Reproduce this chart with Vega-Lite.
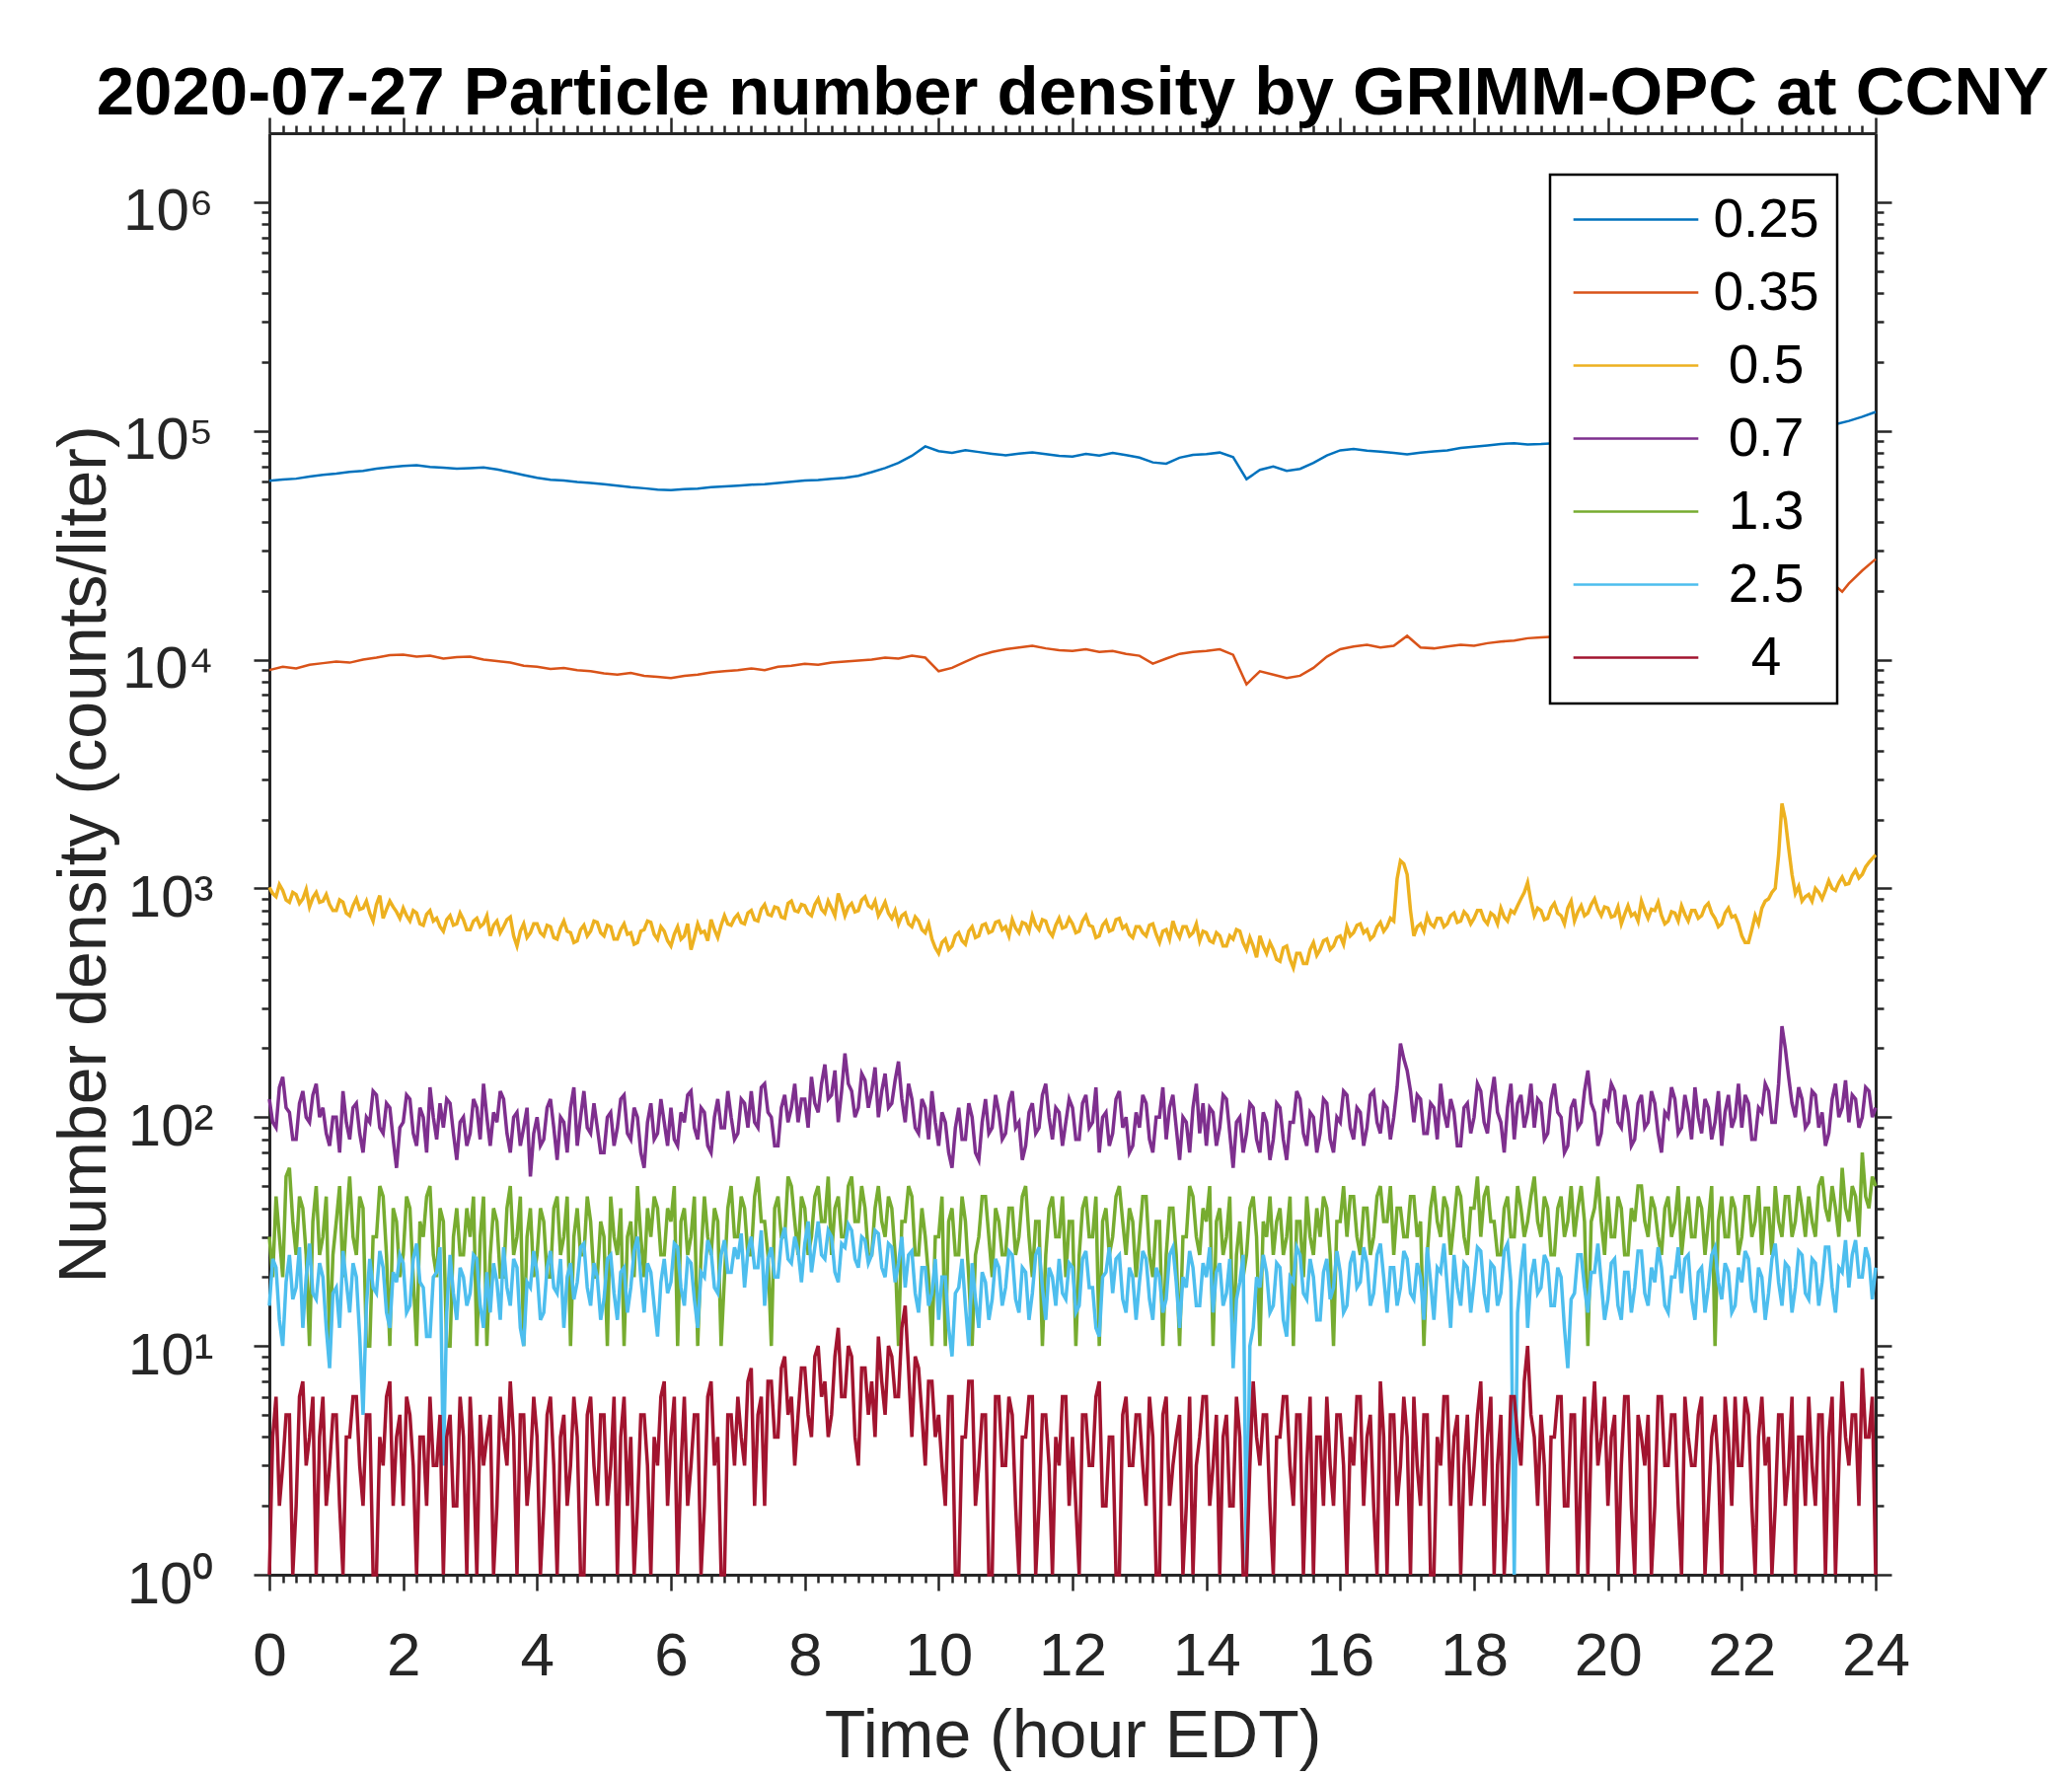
{
  "$schema": "https://vega.github.io/schema/vega-lite/v6.json",
  "width": 1628,
  "height": 1461,
  "autosize": {"type": "none"},
  "padding": {"left": 273, "top": 135, "right": 199, "bottom": 204},
  "background": "white",
  "title": {
    "text": "2020-07-27 Particle number density by GRIMM-OPC at CCNY",
    "font": "Liberation Sans",
    "fontSize": 69,
    "fontWeight": "bold",
    "color": "black",
    "anchor": "middle",
    "frame": "group",
    "baseline": "alphabetic",
    "offset": -67
  },
  "datasets": {
    "s025": [
      {"t":0,"v":60500},{"t":0.2,"v":61200},{"t":0.4,"v":61800},{"t":0.6,"v":63100},{"t":0.8,"v":64200},{"t":1,"v":65000},{"t":1.2,"v":66100},{"t":1.4,"v":66800},{"t":1.6,"v":68400},{"t":1.8,"v":69300},
      {"t":2,"v":70200},{"t":2.2,"v":70800},{"t":2.4,"v":69600},{"t":2.6,"v":69100},{"t":2.8,"v":68300},{"t":3,"v":68700},{"t":3.2,"v":69200},{"t":3.4,"v":67800},{"t":3.6,"v":66000},{"t":3.8,"v":64100},
      {"t":4,"v":62300},{"t":4.2,"v":61100},{"t":4.4,"v":60600},{"t":4.6,"v":59800},{"t":4.8,"v":59200},{"t":5,"v":58400},{"t":5.2,"v":57600},{"t":5.4,"v":56700},{"t":5.6,"v":56100},{"t":5.8,"v":55400},
      {"t":6,"v":55000},{"t":6.2,"v":55600},{"t":6.4,"v":55900},{"t":6.6,"v":56700},{"t":6.8,"v":57100},{"t":7,"v":57600},{"t":7.2,"v":58200},{"t":7.4,"v":58400},{"t":7.6,"v":59200},{"t":7.8,"v":59900},
      {"t":8,"v":60600},{"t":8.2,"v":61000},{"t":8.4,"v":61700},{"t":8.6,"v":62300},{"t":8.8,"v":63600},{"t":9,"v":66000},{"t":9.2,"v":68800},{"t":9.4,"v":72500},{"t":9.6,"v":77800},{"t":9.8,"v":85500},
      {"t":10,"v":81500},{"t":10.2,"v":80200},{"t":10.4,"v":82300},{"t":10.6,"v":80800},{"t":10.8,"v":79400},{"t":11,"v":78200},{"t":11.2,"v":79600},{"t":11.4,"v":80500},{"t":11.6,"v":79100},{"t":11.8,"v":77800},
      {"t":12,"v":77200},{"t":12.2,"v":79300},{"t":12.4,"v":77900},{"t":12.6,"v":80100},{"t":12.8,"v":78300},{"t":13,"v":76400},{"t":13.2,"v":72800},{"t":13.4,"v":71900},{"t":13.6,"v":76300},{"t":13.8,"v":78600},
      {"t":14,"v":79200},{"t":14.2,"v":80400},{"t":14.4,"v":76800},{"t":14.6,"v":61500},{"t":14.8,"v":67500},{"t":15,"v":69800},{"t":15.2,"v":66900},{"t":15.4,"v":68200},{"t":15.6,"v":72400},{"t":15.8,"v":78100},
      {"t":16,"v":82200},{"t":16.2,"v":83400},{"t":16.4,"v":81900},{"t":16.6,"v":81200},{"t":16.8,"v":80100},{"t":17,"v":78900},{"t":17.2,"v":80300},{"t":17.4,"v":81400},{"t":17.6,"v":82100},{"t":17.8,"v":84200},
      {"t":18,"v":85300},{"t":18.2,"v":86400},{"t":18.4,"v":87600},{"t":18.6,"v":88300},{"t":18.8,"v":87200},{"t":19,"v":87500},{"t":19.2,"v":88200},{"t":19.4,"v":88800},{"t":19.6,"v":89300},{"t":19.8,"v":89700},
      {"t":20,"v":90200},{"t":20.2,"v":90600},{"t":20.4,"v":91000},{"t":20.6,"v":91300},{"t":20.8,"v":91700},{"t":21,"v":92100},{"t":21.2,"v":92400},{"t":21.4,"v":92800},{"t":21.6,"v":93200},{"t":21.8,"v":93500},
      {"t":22,"v":94000},{"t":22.2,"v":94600},{"t":22.4,"v":95300},{"t":22.6,"v":96200},{"t":22.8,"v":97400},{"t":23,"v":99200},{"t":23.2,"v":102500},{"t":23.4,"v":106800},{"t":23.6,"v":110500},{"t":23.8,"v":115200},
      {"t":24,"v":121000}
    ],
    "s035": [
      {"t":0,"v":9000},{"t":0.2,"v":9300},{"t":0.4,"v":9150},{"t":0.6,"v":9500},{"t":0.8,"v":9650},{"t":1,"v":9800},{"t":1.2,"v":9700},{"t":1.4,"v":10000},{"t":1.6,"v":10200},{"t":1.8,"v":10450},
      {"t":2,"v":10500},{"t":2.2,"v":10300},{"t":2.4,"v":10400},{"t":2.6,"v":10100},{"t":2.8,"v":10250},{"t":3,"v":10300},{"t":3.2,"v":10000},{"t":3.4,"v":9850},{"t":3.6,"v":9700},{"t":3.8,"v":9400},
      {"t":4,"v":9300},{"t":4.2,"v":9100},{"t":4.4,"v":9200},{"t":4.6,"v":9000},{"t":4.8,"v":8900},{"t":5,"v":8700},{"t":5.2,"v":8600},{"t":5.4,"v":8750},{"t":5.6,"v":8500},{"t":5.8,"v":8400},
      {"t":6,"v":8300},{"t":6.2,"v":8500},{"t":6.4,"v":8600},{"t":6.6,"v":8800},{"t":6.8,"v":8900},{"t":7,"v":9000},{"t":7.2,"v":9150},{"t":7.4,"v":9000},{"t":7.6,"v":9300},{"t":7.8,"v":9400},
      {"t":8,"v":9600},{"t":8.2,"v":9500},{"t":8.4,"v":9700},{"t":8.6,"v":9800},{"t":8.8,"v":9900},{"t":9,"v":10000},{"t":9.2,"v":10200},{"t":9.4,"v":10100},{"t":9.6,"v":10400},{"t":9.8,"v":10200},
      {"t":10,"v":8900},{"t":10.2,"v":9200},{"t":10.4,"v":9800},{"t":10.6,"v":10400},{"t":10.8,"v":10800},{"t":11,"v":11100},{"t":11.2,"v":11300},{"t":11.4,"v":11500},{"t":11.6,"v":11200},{"t":11.8,"v":11000},
      {"t":12,"v":10900},{"t":12.2,"v":11100},{"t":12.4,"v":10800},{"t":12.6,"v":10900},{"t":12.8,"v":10600},{"t":13,"v":10400},{"t":13.2,"v":9600},{"t":13.4,"v":10100},{"t":13.6,"v":10600},{"t":13.8,"v":10800},
      {"t":14,"v":10900},{"t":14.2,"v":11100},{"t":14.4,"v":10500},{"t":14.6,"v":7800},{"t":14.8,"v":8900},{"t":15,"v":8600},{"t":15.2,"v":8300},{"t":15.4,"v":8500},{"t":15.6,"v":9200},{"t":15.8,"v":10300},
      {"t":16,"v":11100},{"t":16.2,"v":11400},{"t":16.4,"v":11600},{"t":16.6,"v":11300},{"t":16.8,"v":11500},{"t":17,"v":12700},{"t":17.2,"v":11300},{"t":17.4,"v":11200},{"t":17.6,"v":11400},{"t":17.8,"v":11600},
      {"t":18,"v":11500},{"t":18.2,"v":11800},{"t":18.4,"v":12000},{"t":18.6,"v":12100},{"t":18.8,"v":12400},{"t":19,"v":12500},{"t":19.2,"v":12600},{"t":19.4,"v":12800},{"t":19.6,"v":12900},{"t":19.8,"v":13000},
      {"t":20,"v":13100},{"t":20.2,"v":13200},{"t":20.4,"v":13300},{"t":20.6,"v":13400},{"t":20.8,"v":13500},{"t":21,"v":13600},{"t":21.2,"v":13700},{"t":21.4,"v":13900},{"t":21.6,"v":14100},{"t":21.8,"v":14300},
      {"t":22,"v":14600},{"t":22.2,"v":15000},{"t":22.4,"v":15600},{"t":22.6,"v":16400},{"t":22.8,"v":17400},{"t":23,"v":18400},{"t":23.2,"v":19600},{"t":23.4,"v":21000},{"t":23.5,"v":19800},{"t":23.6,"v":21500},
      {"t":23.8,"v":24500},{"t":24,"v":27500}
    ],
    "s05": [
      {"t":0,"v":1010},{"t":0.05,"v":950},{"t":0.1,"v":920},{"t":0.15,"v":1040},{"t":0.2,"v":980},{"t":0.25,"v":890},{"t":0.3,"v":870},{"t":0.35,"v":960},{"t":0.4,"v":940},{"t":0.45,"v":860},{"t":0.5,"v":900},{"t":0.55,"v":990},{"t":0.6,"v":830},{"t":0.65,"v":910},{"t":0.7,"v":960},{"t":0.75,"v":870},{"t":0.8,"v":880},{"t":0.85,"v":940},{"t":0.9,"v":850},{"t":0.95,"v":800},
      {"t":1,"v":800},{"t":1.05,"v":890},{"t":1.1,"v":870},{"t":1.15,"v":780},{"t":1.2,"v":760},{"t":1.25,"v":840},{"t":1.3,"v":900},{"t":1.35,"v":810},{"t":1.4,"v":820},{"t":1.45,"v":880},{"t":1.5,"v":780},{"t":1.55,"v":720},{"t":1.6,"v":850},{"t":1.65,"v":930},{"t":1.7,"v":740},{"t":1.75,"v":810},{"t":1.8,"v":880},{"t":1.85,"v":830},{"t":1.9,"v":790},{"t":1.95,"v":740},
      {"t":2,"v":820},{"t":2.05,"v":760},{"t":2.1,"v":720},{"t":2.15,"v":800},{"t":2.2,"v":780},{"t":2.25,"v":700},{"t":2.3,"v":690},{"t":2.35,"v":770},{"t":2.4,"v":800},{"t":2.45,"v":720},{"t":2.5,"v":740},{"t":2.55,"v":680},{"t":2.6,"v":650},{"t":2.65,"v":730},{"t":2.7,"v":760},{"t":2.75,"v":690},{"t":2.8,"v":700},{"t":2.85,"v":780},{"t":2.9,"v":730},{"t":2.95,"v":660},
      {"t":3,"v":660},{"t":3.05,"v":720},{"t":3.1,"v":740},{"t":3.15,"v":680},{"t":3.2,"v":700},{"t":3.25,"v":760},{"t":3.3,"v":620},{"t":3.35,"v":690},{"t":3.4,"v":720},{"t":3.45,"v":640},{"t":3.5,"v":680},{"t":3.55,"v":730},{"t":3.6,"v":750},{"t":3.65,"v":620},{"t":3.7,"v":560},{"t":3.75,"v":650},{"t":3.8,"v":700},{"t":3.85,"v":610},{"t":3.9,"v":640},{"t":3.95,"v":700},
      {"t":4,"v":700},{"t":4.05,"v":640},{"t":4.1,"v":620},{"t":4.15,"v":690},{"t":4.2,"v":680},{"t":4.25,"v":610},{"t":4.3,"v":600},{"t":4.35,"v":670},{"t":4.4,"v":720},{"t":4.45,"v":650},{"t":4.5,"v":640},{"t":4.55,"v":580},{"t":4.6,"v":590},{"t":4.65,"v":660},{"t":4.7,"v":690},{"t":4.75,"v":620},{"t":4.8,"v":650},{"t":4.85,"v":720},{"t":4.9,"v":710},{"t":4.95,"v":640},
      {"t":5,"v":620},{"t":5.05,"v":690},{"t":5.1,"v":680},{"t":5.15,"v":600},{"t":5.2,"v":600},{"t":5.25,"v":660},{"t":5.3,"v":700},{"t":5.35,"v":630},{"t":5.4,"v":640},{"t":5.45,"v":570},{"t":5.5,"v":580},{"t":5.55,"v":650},{"t":5.6,"v":660},{"t":5.65,"v":720},{"t":5.7,"v":710},{"t":5.75,"v":630},{"t":5.8,"v":600},{"t":5.85,"v":680},{"t":5.9,"v":650},{"t":5.95,"v":590},
      {"t":6,"v":560},{"t":6.05,"v":630},{"t":6.1,"v":680},{"t":6.15,"v":600},{"t":6.2,"v":620},{"t":6.25,"v":700},{"t":6.3,"v":540},{"t":6.35,"v":610},{"t":6.4,"v":700},{"t":6.45,"v":640},{"t":6.5,"v":650},{"t":6.55,"v":590},{"t":6.6,"v":730},{"t":6.65,"v":660},{"t":6.7,"v":610},{"t":6.75,"v":690},{"t":6.8,"v":760},{"t":6.85,"v":700},{"t":6.9,"v":690},{"t":6.95,"v":740},
      {"t":7,"v":770},{"t":7.05,"v":710},{"t":7.1,"v":700},{"t":7.15,"v":780},{"t":7.2,"v":800},{"t":7.25,"v":730},{"t":7.3,"v":720},{"t":7.35,"v":810},{"t":7.4,"v":850},{"t":7.45,"v":770},{"t":7.5,"v":760},{"t":7.55,"v":830},{"t":7.6,"v":820},{"t":7.65,"v":750},{"t":7.7,"v":740},{"t":7.75,"v":860},{"t":7.8,"v":880},{"t":7.85,"v":800},{"t":7.9,"v":790},{"t":7.95,"v":850},
      {"t":8,"v":840},{"t":8.05,"v":780},{"t":8.1,"v":760},{"t":8.15,"v":850},{"t":8.2,"v":900},{"t":8.25,"v":810},{"t":8.3,"v":780},{"t":8.35,"v":880},{"t":8.4,"v":820},{"t":8.45,"v":760},{"t":8.5,"v":950},{"t":8.55,"v":860},{"t":8.6,"v":760},{"t":8.65,"v":830},{"t":8.7,"v":860},{"t":8.75,"v":790},{"t":8.8,"v":800},{"t":8.85,"v":890},{"t":8.9,"v":920},{"t":8.95,"v":840},
      {"t":9,"v":820},{"t":9.05,"v":880},{"t":9.1,"v":760},{"t":9.15,"v":810},{"t":9.2,"v":870},{"t":9.25,"v":780},{"t":9.3,"v":740},{"t":9.35,"v":800},{"t":9.4,"v":700},{"t":9.45,"v":760},{"t":9.5,"v":780},{"t":9.55,"v":700},{"t":9.6,"v":680},{"t":9.65,"v":750},{"t":9.7,"v":720},{"t":9.75,"v":660},{"t":9.8,"v":640},{"t":9.85,"v":700},{"t":9.9,"v":600},{"t":9.95,"v":550},
      {"t":10,"v":520},{"t":10.05,"v":580},{"t":10.1,"v":600},{"t":10.15,"v":540},{"t":10.2,"v":560},{"t":10.25,"v":620},{"t":10.3,"v":640},{"t":10.35,"v":590},{"t":10.4,"v":570},{"t":10.45,"v":650},{"t":10.5,"v":680},{"t":10.55,"v":610},{"t":10.6,"v":620},{"t":10.65,"v":690},{"t":10.7,"v":700},{"t":10.75,"v":640},{"t":10.8,"v":650},{"t":10.85,"v":710},{"t":10.9,"v":720},{"t":10.95,"v":660},
      {"t":11,"v":680},{"t":11.05,"v":620},{"t":11.1,"v":730},{"t":11.15,"v":670},{"t":11.2,"v":640},{"t":11.25,"v":710},{"t":11.3,"v":700},{"t":11.35,"v":650},{"t":11.4,"v":760},{"t":11.45,"v":690},{"t":11.5,"v":660},{"t":11.55,"v":730},{"t":11.6,"v":720},{"t":11.65,"v":650},{"t":11.7,"v":620},{"t":11.75,"v":690},{"t":11.8,"v":740},{"t":11.85,"v":670},{"t":11.9,"v":680},{"t":11.95,"v":740},
      {"t":12,"v":700},{"t":12.05,"v":640},{"t":12.1,"v":650},{"t":12.15,"v":720},{"t":12.2,"v":760},{"t":12.25,"v":690},{"t":12.3,"v":680},{"t":12.35,"v":610},{"t":12.4,"v":620},{"t":12.45,"v":690},{"t":12.5,"v":720},{"t":12.55,"v":650},{"t":12.6,"v":660},{"t":12.65,"v":730},{"t":12.7,"v":740},{"t":12.75,"v":670},{"t":12.8,"v":690},{"t":12.85,"v":630},{"t":12.9,"v":610},{"t":12.95,"v":680},
      {"t":13,"v":680},{"t":13.05,"v":640},{"t":13.1,"v":620},{"t":13.15,"v":690},{"t":13.2,"v":700},{"t":13.25,"v":630},{"t":13.3,"v":580},{"t":13.35,"v":650},{"t":13.4,"v":660},{"t":13.45,"v":600},{"t":13.5,"v":720},{"t":13.55,"v":650},{"t":13.6,"v":610},{"t":13.65,"v":680},{"t":13.7,"v":680},{"t":13.75,"v":620},{"t":13.8,"v":640},{"t":13.85,"v":700},{"t":13.9,"v":590},{"t":13.95,"v":650},
      {"t":14,"v":640},{"t":14.05,"v":590},{"t":14.1,"v":580},{"t":14.15,"v":640},{"t":14.2,"v":620},{"t":14.25,"v":560},{"t":14.3,"v":560},{"t":14.35,"v":620},{"t":14.4,"v":600},{"t":14.45,"v":660},{"t":14.5,"v":650},{"t":14.55,"v":580},{"t":14.6,"v":540},{"t":14.65,"v":610},{"t":14.7,"v":560},{"t":14.75,"v":500},{"t":14.8,"v":620},{"t":14.85,"v":560},{"t":14.9,"v":520},{"t":14.95,"v":580},
      {"t":15,"v":540},{"t":15.05,"v":490},{"t":15.1,"v":480},{"t":15.15,"v":550},{"t":15.2,"v":560},{"t":15.25,"v":490},{"t":15.3,"v":450},{"t":15.35,"v":520},{"t":15.4,"v":520},{"t":15.45,"v":470},{"t":15.5,"v":470},{"t":15.55,"v":540},{"t":15.6,"v":580},{"t":15.65,"v":510},{"t":15.7,"v":540},{"t":15.75,"v":590},{"t":15.8,"v":600},{"t":15.85,"v":540},{"t":15.9,"v":560},{"t":15.95,"v":610},
      {"t":16,"v":620},{"t":16.05,"v":570},{"t":16.1,"v":680},{"t":16.15,"v":620},{"t":16.2,"v":640},{"t":16.25,"v":690},{"t":16.3,"v":700},{"t":16.35,"v":640},{"t":16.4,"v":660},{"t":16.45,"v":600},{"t":16.5,"v":620},{"t":16.55,"v":680},{"t":16.6,"v":710},{"t":16.65,"v":650},{"t":16.7,"v":680},{"t":16.75,"v":740},{"t":16.8,"v":720},{"t":16.85,"v":1100},{"t":16.9,"v":1320},{"t":16.95,"v":1280},
      {"t":17,"v":1150},{"t":17.05,"v":800},{"t":17.1,"v":620},{"t":17.15,"v":680},{"t":17.2,"v":700},{"t":17.25,"v":650},{"t":17.3,"v":760},{"t":17.35,"v":700},{"t":17.4,"v":680},{"t":17.45,"v":740},{"t":17.5,"v":740},{"t":17.55,"v":680},{"t":17.6,"v":700},{"t":17.65,"v":760},{"t":17.7,"v":780},{"t":17.75,"v":710},{"t":17.8,"v":720},{"t":17.85,"v":790},{"t":17.9,"v":760},{"t":17.95,"v":700},
      {"t":18,"v":740},{"t":18.05,"v":800},{"t":18.1,"v":800},{"t":18.15,"v":730},{"t":18.2,"v":700},{"t":18.25,"v":780},{"t":18.3,"v":760},{"t":18.35,"v":700},{"t":18.4,"v":820},{"t":18.45,"v":750},{"t":18.5,"v":720},{"t":18.55,"v":800},{"t":18.6,"v":780},{"t":18.65,"v":840},{"t":18.7,"v":900},{"t":18.75,"v":960},{"t":18.8,"v":1060},{"t":18.85,"v":880},{"t":18.9,"v":760},{"t":18.95,"v":820},
      {"t":19,"v":800},{"t":19.05,"v":730},{"t":19.1,"v":740},{"t":19.15,"v":820},{"t":19.2,"v":860},{"t":19.25,"v":780},{"t":19.3,"v":760},{"t":19.35,"v":700},{"t":19.4,"v":820},{"t":19.45,"v":880},{"t":19.5,"v":720},{"t":19.55,"v":790},{"t":19.6,"v":840},{"t":19.65,"v":760},{"t":19.7,"v":780},{"t":19.75,"v":850},{"t":19.8,"v":900},{"t":19.85,"v":810},{"t":19.9,"v":760},{"t":19.95,"v":830},
      {"t":20,"v":820},{"t":20.05,"v":750},{"t":20.1,"v":760},{"t":20.15,"v":830},{"t":20.2,"v":700},{"t":20.25,"v":770},{"t":20.3,"v":840},{"t":20.35,"v":760},{"t":20.4,"v":780},{"t":20.45,"v":720},{"t":20.5,"v":880},{"t":20.55,"v":800},{"t":20.6,"v":740},{"t":20.65,"v":810},{"t":20.7,"v":800},{"t":20.75,"v":870},{"t":20.8,"v":760},{"t":20.85,"v":700},{"t":20.9,"v":720},{"t":20.95,"v":790},
      {"t":21,"v":780},{"t":21.05,"v":720},{"t":21.1,"v":840},{"t":21.15,"v":770},{"t":21.2,"v":720},{"t":21.25,"v":800},{"t":21.3,"v":800},{"t":21.35,"v":740},{"t":21.4,"v":760},{"t":21.45,"v":830},{"t":21.5,"v":860},{"t":21.55,"v":780},{"t":21.6,"v":740},{"t":21.65,"v":680},{"t":21.7,"v":700},{"t":21.75,"v":780},{"t":21.8,"v":820},{"t":21.85,"v":750},{"t":21.9,"v":760},{"t":21.95,"v":700},
      {"t":22,"v":620},{"t":22.05,"v":580},{"t":22.1,"v":580},{"t":22.15,"v":660},{"t":22.2,"v":760},{"t":22.25,"v":700},{"t":22.3,"v":820},{"t":22.35,"v":880},{"t":22.4,"v":900},{"t":22.45,"v":960},{"t":22.5,"v":1000},{"t":22.55,"v":1400},{"t":22.6,"v":2350},{"t":22.65,"v":2000},{"t":22.7,"v":1500},{"t":22.75,"v":1150},{"t":22.8,"v":950},{"t":22.85,"v":1020},{"t":22.9,"v":880},{"t":22.95,"v":920},
      {"t":23,"v":940},{"t":23.05,"v":880},{"t":23.1,"v":1000},{"t":23.15,"v":960},{"t":23.2,"v":900},{"t":23.25,"v":980},{"t":23.3,"v":1080},{"t":23.35,"v":1000},{"t":23.4,"v":980},{"t":23.45,"v":1060},{"t":23.5,"v":1120},{"t":23.55,"v":1040},{"t":23.6,"v":1050},{"t":23.65,"v":1140},{"t":23.7,"v":1200},{"t":23.75,"v":1110},{"t":23.8,"v":1150},{"t":23.85,"v":1240},{"t":23.9,"v":1300},{"t":23.95,"v":1350},
      {"t":24,"v":1400}
    ],
    "s07": [
      {"t":0,"v":120},{"t":0.05,"v":95},{"t":0.1,"v":90},{"t":0.15,"v":135},{"t":0.2,"v":150},{"t":0.25,"v":110},{"t":0.3,"v":105},{"t":0.35,"v":80},{"t":0.4,"v":80},{"t":0.45,"v":115},{"t":0.5,"v":130},{"t":0.55,"v":100},{"t":0.6,"v":95},{"t":0.65,"v":125},{"t":0.7,"v":140},{"t":0.75,"v":100},{"t":0.8,"v":110},{"t":0.85,"v":85},{"t":0.9,"v":75},{"t":0.95,"v":100},
      {"t":1,"v":100},{"t":1.05,"v":70},{"t":1.1,"v":130},{"t":1.15,"v":95},{"t":1.2,"v":80},{"t":1.25,"v":110},{"t":1.3,"v":115},{"t":1.35,"v":85},{"t":1.4,"v":70},{"t":1.45,"v":100},{"t":1.5,"v":95},{"t":1.55,"v":130},{"t":1.6,"v":125},{"t":1.65,"v":90},{"t":1.7,"v":85},{"t":1.75,"v":115},{"t":1.8,"v":110},{"t":1.85,"v":80},{"t":1.9,"v":60},{"t":1.95,"v":90},
      {"t":2,"v":95},{"t":2.05,"v":125},{"t":2.1,"v":120},{"t":2.15,"v":85},{"t":2.2,"v":75},{"t":2.25,"v":110},{"t":2.3,"v":100},{"t":2.35,"v":70},{"t":2.4,"v":135},{"t":2.45,"v":100},{"t":2.5,"v":80},{"t":2.55,"v":115},{"t":2.6,"v":90},{"t":2.65,"v":120},{"t":2.7,"v":115},{"t":2.75,"v":85},{"t":2.8,"v":65},{"t":2.85,"v":95},{"t":2.9,"v":100},{"t":2.95,"v":75},
      {"t":3,"v":85},{"t":3.05,"v":120},{"t":3.1,"v":110},{"t":3.15,"v":80},{"t":3.2,"v":140},{"t":3.25,"v":100},{"t":3.3,"v":75},{"t":3.35,"v":105},{"t":3.4,"v":95},{"t":3.45,"v":130},{"t":3.5,"v":120},{"t":3.55,"v":85},{"t":3.6,"v":70},{"t":3.65,"v":100},{"t":3.7,"v":105},{"t":3.75,"v":75},{"t":3.8,"v":90},{"t":3.85,"v":110},{"t":3.9,"v":55},{"t":3.95,"v":85},
      {"t":4,"v":100},{"t":4.05,"v":75},{"t":4.1,"v":80},{"t":4.15,"v":110},{"t":4.2,"v":120},{"t":4.25,"v":90},{"t":4.3,"v":65},{"t":4.35,"v":100},{"t":4.4,"v":95},{"t":4.45,"v":70},{"t":4.5,"v":110},{"t":4.55,"v":135},{"t":4.6,"v":75},{"t":4.65,"v":100},{"t":4.7,"v":130},{"t":4.75,"v":90},{"t":4.8,"v":85},{"t":4.85,"v":115},{"t":4.9,"v":90},{"t":4.95,"v":70},
      {"t":5,"v":70},{"t":5.05,"v":100},{"t":5.1,"v":105},{"t":5.15,"v":75},{"t":5.2,"v":90},{"t":5.25,"v":120},{"t":5.3,"v":125},{"t":5.35,"v":85},{"t":5.4,"v":80},{"t":5.45,"v":110},{"t":5.5,"v":100},{"t":5.55,"v":70},{"t":5.6,"v":60},{"t":5.65,"v":95},{"t":5.7,"v":115},{"t":5.75,"v":80},{"t":5.8,"v":85},{"t":5.85,"v":120},{"t":5.9,"v":95},{"t":5.95,"v":75},
      {"t":6,"v":110},{"t":6.05,"v":80},{"t":6.1,"v":75},{"t":6.15,"v":105},{"t":6.2,"v":95},{"t":6.25,"v":125},{"t":6.3,"v":130},{"t":6.35,"v":90},{"t":6.4,"v":80},{"t":6.45,"v":110},{"t":6.5,"v":105},{"t":6.55,"v":75},{"t":6.6,"v":70},{"t":6.65,"v":100},{"t":6.7,"v":120},{"t":6.75,"v":90},{"t":6.8,"v":90},{"t":6.85,"v":130},{"t":6.9,"v":100},{"t":6.95,"v":80},
      {"t":7,"v":85},{"t":7.05,"v":120},{"t":7.1,"v":115},{"t":7.15,"v":90},{"t":7.2,"v":130},{"t":7.25,"v":95},{"t":7.3,"v":90},{"t":7.35,"v":135},{"t":7.4,"v":140},{"t":7.45,"v":105},{"t":7.5,"v":100},{"t":7.55,"v":75},{"t":7.6,"v":75},{"t":7.65,"v":110},{"t":7.7,"v":125},{"t":7.75,"v":95},{"t":7.8,"v":110},{"t":7.85,"v":140},{"t":7.9,"v":95},{"t":7.95,"v":120},
      {"t":8,"v":120},{"t":8.05,"v":90},{"t":8.1,"v":150},{"t":8.15,"v":115},{"t":8.2,"v":105},{"t":8.25,"v":140},{"t":8.3,"v":170},{"t":8.35,"v":120},{"t":8.4,"v":125},{"t":8.45,"v":160},{"t":8.5,"v":95},{"t":8.55,"v":130},{"t":8.6,"v":190},{"t":8.65,"v":140},{"t":8.7,"v":130},{"t":8.75,"v":100},{"t":8.8,"v":110},{"t":8.85,"v":155},{"t":8.9,"v":145},{"t":8.95,"v":110},
      {"t":9,"v":130},{"t":9.05,"v":165},{"t":9.1,"v":100},{"t":9.15,"v":130},{"t":9.2,"v":155},{"t":9.25,"v":110},{"t":9.3,"v":115},{"t":9.35,"v":145},{"t":9.4,"v":175},{"t":9.45,"v":120},{"t":9.5,"v":95},{"t":9.55,"v":140},{"t":9.6,"v":120},{"t":9.65,"v":90},{"t":9.7,"v":85},{"t":9.75,"v":120},{"t":9.8,"v":110},{"t":9.85,"v":80},{"t":9.9,"v":130},{"t":9.95,"v":95},
      {"t":10,"v":75},{"t":10.05,"v":105},{"t":10.1,"v":95},{"t":10.15,"v":70},{"t":10.2,"v":60},{"t":10.25,"v":90},{"t":10.3,"v":110},{"t":10.35,"v":80},{"t":10.4,"v":80},{"t":10.45,"v":115},{"t":10.5,"v":100},{"t":10.55,"v":70},{"t":10.6,"v":65},{"t":10.65,"v":95},{"t":10.7,"v":120},{"t":10.75,"v":85},{"t":10.8,"v":90},{"t":10.85,"v":125},{"t":10.9,"v":105},{"t":10.95,"v":80},
      {"t":11,"v":85},{"t":11.05,"v":115},{"t":11.1,"v":130},{"t":11.15,"v":90},{"t":11.2,"v":95},{"t":11.25,"v":65},{"t":11.3,"v":75},{"t":11.35,"v":105},{"t":11.4,"v":115},{"t":11.45,"v":85},{"t":11.5,"v":90},{"t":11.55,"v":125},{"t":11.6,"v":140},{"t":11.65,"v":100},{"t":11.7,"v":80},{"t":11.75,"v":110},{"t":11.8,"v":105},{"t":11.85,"v":75},{"t":11.9,"v":95},{"t":11.95,"v":120},
      {"t":12,"v":110},{"t":12.05,"v":80},{"t":12.1,"v":80},{"t":12.15,"v":115},{"t":12.2,"v":125},{"t":12.25,"v":90},{"t":12.3,"v":95},{"t":12.35,"v":135},{"t":12.4,"v":70},{"t":12.45,"v":100},{"t":12.5,"v":105},{"t":12.55,"v":75},{"t":12.6,"v":85},{"t":12.65,"v":120},{"t":12.7,"v":130},{"t":12.75,"v":90},{"t":12.8,"v":100},{"t":12.85,"v":70},{"t":12.9,"v":75},{"t":12.95,"v":105},
      {"t":13,"v":90},{"t":13.05,"v":125},{"t":13.1,"v":115},{"t":13.15,"v":80},{"t":13.2,"v":70},{"t":13.25,"v":100},{"t":13.3,"v":100},{"t":13.35,"v":135},{"t":13.4,"v":80},{"t":13.45,"v":110},{"t":13.5,"v":125},{"t":13.55,"v":90},{"t":13.6,"v":65},{"t":13.65,"v":100},{"t":13.7,"v":95},{"t":13.75,"v":70},{"t":13.8,"v":110},{"t":13.85,"v":140},{"t":13.9,"v":85},{"t":13.95,"v":115},
      {"t":14,"v":75},{"t":14.05,"v":110},{"t":14.1,"v":105},{"t":14.15,"v":75},{"t":14.2,"v":90},{"t":14.25,"v":125},{"t":14.3,"v":120},{"t":14.35,"v":85},{"t":14.4,"v":60},{"t":14.45,"v":95},{"t":14.5,"v":100},{"t":14.55,"v":70},{"t":14.6,"v":85},{"t":14.65,"v":115},{"t":14.7,"v":110},{"t":14.75,"v":80},{"t":14.8,"v":70},{"t":14.85,"v":105},{"t":14.9,"v":95},{"t":14.95,"v":65},
      {"t":15,"v":80},{"t":15.05,"v":115},{"t":15.1,"v":110},{"t":15.15,"v":80},{"t":15.2,"v":65},{"t":15.25,"v":95},{"t":15.3,"v":95},{"t":15.35,"v":130},{"t":15.4,"v":120},{"t":15.45,"v":85},{"t":15.5,"v":75},{"t":15.55,"v":105},{"t":15.6,"v":100},{"t":15.65,"v":70},{"t":15.7,"v":85},{"t":15.75,"v":120},{"t":15.8,"v":115},{"t":15.85,"v":80},{"t":15.9,"v":70},{"t":15.95,"v":100},
      {"t":16,"v":95},{"t":16.05,"v":130},{"t":16.1,"v":125},{"t":16.15,"v":90},{"t":16.2,"v":80},{"t":16.25,"v":110},{"t":16.3,"v":105},{"t":16.35,"v":75},{"t":16.4,"v":90},{"t":16.45,"v":125},{"t":16.5,"v":130},{"t":16.55,"v":95},{"t":16.6,"v":85},{"t":16.65,"v":115},{"t":16.7,"v":110},{"t":16.75,"v":80},{"t":16.8,"v":100},{"t":16.85,"v":135},{"t":16.9,"v":210},{"t":16.95,"v":180},
      {"t":17,"v":160},{"t":17.05,"v":130},{"t":17.1,"v":95},{"t":17.15,"v":125},{"t":17.2,"v":120},{"t":17.25,"v":85},{"t":17.3,"v":85},{"t":17.35,"v":115},{"t":17.4,"v":110},{"t":17.45,"v":80},{"t":17.5,"v":140},{"t":17.55,"v":105},{"t":17.6,"v":90},{"t":17.65,"v":120},{"t":17.7,"v":105},{"t":17.75,"v":75},{"t":17.8,"v":75},{"t":17.85,"v":110},{"t":17.9,"v":115},{"t":17.95,"v":85},
      {"t":18,"v":100},{"t":18.05,"v":140},{"t":18.1,"v":130},{"t":18.15,"v":95},{"t":18.2,"v":85},{"t":18.25,"v":120},{"t":18.3,"v":150},{"t":18.35,"v":105},{"t":18.4,"v":95},{"t":18.45,"v":70},{"t":18.5,"v":110},{"t":18.55,"v":140},{"t":18.6,"v":80},{"t":18.65,"v":115},{"t":18.7,"v":125},{"t":18.75,"v":90},{"t":18.8,"v":105},{"t":18.85,"v":140},{"t":18.9,"v":90},{"t":18.95,"v":120},
      {"t":19,"v":115},{"t":19.05,"v":80},{"t":19.1,"v":85},{"t":19.15,"v":120},{"t":19.2,"v":140},{"t":19.25,"v":105},{"t":19.3,"v":100},{"t":19.35,"v":70},{"t":19.4,"v":75},{"t":19.45,"v":110},{"t":19.5,"v":120},{"t":19.55,"v":90},{"t":19.6,"v":95},{"t":19.65,"v":130},{"t":19.7,"v":160},{"t":19.75,"v":115},{"t":19.8,"v":105},{"t":19.85,"v":75},{"t":19.9,"v":85},{"t":19.95,"v":120},
      {"t":20,"v":110},{"t":20.05,"v":140},{"t":20.1,"v":130},{"t":20.15,"v":95},{"t":20.2,"v":90},{"t":20.25,"v":125},{"t":20.3,"v":105},{"t":20.35,"v":75},{"t":20.4,"v":80},{"t":20.45,"v":115},{"t":20.5,"v":125},{"t":20.55,"v":90},{"t":20.6,"v":95},{"t":20.65,"v":130},{"t":20.7,"v":115},{"t":20.75,"v":85},{"t":20.8,"v":70},{"t":20.85,"v":105},{"t":20.9,"v":100},{"t":20.95,"v":135},
      {"t":21,"v":120},{"t":21.05,"v":85},{"t":21.1,"v":90},{"t":21.15,"v":125},{"t":21.2,"v":105},{"t":21.25,"v":80},{"t":21.3,"v":135},{"t":21.35,"v":100},{"t":21.4,"v":85},{"t":21.45,"v":120},{"t":21.5,"v":110},{"t":21.55,"v":80},{"t":21.6,"v":95},{"t":21.65,"v":130},{"t":21.7,"v":75},{"t":21.75,"v":105},{"t":21.8,"v":125},{"t":21.85,"v":90},{"t":21.9,"v":100},{"t":21.95,"v":140},
      {"t":22,"v":90},{"t":22.05,"v":125},{"t":22.1,"v":115},{"t":22.15,"v":80},{"t":22.2,"v":80},{"t":22.25,"v":110},{"t":22.3,"v":105},{"t":22.35,"v":140},{"t":22.4,"v":130},{"t":22.45,"v":95},{"t":22.5,"v":95},{"t":22.55,"v":140},{"t":22.6,"v":250},{"t":22.65,"v":200},{"t":22.7,"v":150},{"t":22.75,"v":115},{"t":22.8,"v":100},{"t":22.85,"v":135},{"t":22.9,"v":120},{"t":22.95,"v":90},
      {"t":23,"v":95},{"t":23.05,"v":130},{"t":23.1,"v":125},{"t":23.15,"v":90},{"t":23.2,"v":105},{"t":23.25,"v":75},{"t":23.3,"v":85},{"t":23.35,"v":120},{"t":23.4,"v":140},{"t":23.45,"v":100},{"t":23.5,"v":110},{"t":23.55,"v":145},{"t":23.6,"v":95},{"t":23.65,"v":125},{"t":23.7,"v":120},{"t":23.75,"v":90},{"t":23.8,"v":100},{"t":23.85,"v":135},{"t":23.9,"v":130},{"t":23.95,"v":100},
      {"t":24,"v":110}
    ],
    "s13": [
      {"t":0,"v":30},{"t":0.05,"v":20},{"t":0.1,"v":45},{"t":0.15,"v":30},{"t":0.2,"v":20},{"t":0.25,"v":55},{"t":0.3,"v":60},{"t":0.35,"v":35},{"t":0.4,"v":25},{"t":0.45,"v":45},{"t":0.5,"v":40},{"t":0.55,"v":25},{"t":0.6,"v":10},{"t":0.65,"v":35},{"t":0.7,"v":50},{"t":0.75,"v":25},{"t":0.8,"v":30},{"t":0.85,"v":45},{"t":0.9,"v":10},{"t":0.95,"v":25},
      {"t":1,"v":35},{"t":1.05,"v":50},{"t":1.1,"v":20},{"t":1.15,"v":35},{"t":1.2,"v":55},{"t":1.25,"v":30},{"t":1.3,"v":25},{"t":1.35,"v":45},{"t":1.4,"v":40},{"t":1.45,"v":10},{"t":1.5,"v":10},{"t":1.55,"v":30},{"t":1.6,"v":30},{"t":1.65,"v":50},{"t":1.7,"v":45},{"t":1.75,"v":25},{"t":1.8,"v":10},{"t":1.85,"v":40},{"t":1.9,"v":35},{"t":1.95,"v":20},
      {"t":2,"v":25},{"t":2.05,"v":45},{"t":2.1,"v":40},{"t":2.15,"v":20},{"t":2.2,"v":10},{"t":2.25,"v":35},{"t":2.3,"v":30},{"t":2.35,"v":45},{"t":2.4,"v":50},{"t":2.45,"v":25},{"t":2.5,"v":20},{"t":2.55,"v":40},{"t":2.6,"v":35},{"t":2.65,"v":10},{"t":2.7,"v":10},{"t":2.75,"v":30},{"t":2.8,"v":40},{"t":2.85,"v":25},{"t":2.9,"v":25},{"t":2.95,"v":40},
      {"t":3,"v":30},{"t":3.05,"v":45},{"t":3.1,"v":10},{"t":3.15,"v":30},{"t":3.2,"v":45},{"t":3.25,"v":10},{"t":3.3,"v":25},{"t":3.35,"v":40},{"t":3.4,"v":35},{"t":3.45,"v":20},{"t":3.5,"v":20},{"t":3.55,"v":40},{"t":3.6,"v":50},{"t":3.65,"v":25},{"t":3.7,"v":30},{"t":3.75,"v":45},{"t":3.8,"v":10},{"t":3.85,"v":30},{"t":3.9,"v":40},{"t":3.95,"v":20},
      {"t":4,"v":25},{"t":4.05,"v":40},{"t":4.1,"v":35},{"t":4.15,"v":20},{"t":4.2,"v":20},{"t":4.25,"v":40},{"t":4.3,"v":45},{"t":4.35,"v":25},{"t":4.4,"v":30},{"t":4.45,"v":45},{"t":4.5,"v":10},{"t":4.55,"v":30},{"t":4.6,"v":40},{"t":4.65,"v":25},{"t":4.7,"v":25},{"t":4.75,"v":45},{"t":4.8,"v":35},{"t":4.85,"v":20},{"t":4.9,"v":20},{"t":4.95,"v":35},
      {"t":5,"v":30},{"t":5.05,"v":10},{"t":5.1,"v":45},{"t":5.15,"v":30},{"t":5.2,"v":25},{"t":5.25,"v":40},{"t":5.3,"v":10},{"t":5.35,"v":30},{"t":5.4,"v":35},{"t":5.45,"v":20},{"t":5.5,"v":50},{"t":5.55,"v":30},{"t":5.6,"v":20},{"t":5.65,"v":40},{"t":5.7,"v":30},{"t":5.75,"v":45},{"t":5.8,"v":40},{"t":5.85,"v":25},{"t":5.9,"v":25},{"t":5.95,"v":40},
      {"t":6,"v":35},{"t":6.05,"v":50},{"t":6.1,"v":10},{"t":6.15,"v":35},{"t":6.2,"v":40},{"t":6.25,"v":25},{"t":6.3,"v":30},{"t":6.35,"v":45},{"t":6.4,"v":10},{"t":6.45,"v":25},{"t":6.5,"v":45},{"t":6.55,"v":30},{"t":6.6,"v":25},{"t":6.65,"v":40},{"t":6.7,"v":35},{"t":6.75,"v":10},{"t":6.8,"v":20},{"t":6.85,"v":40},{"t":6.9,"v":50},{"t":6.95,"v":30},
      {"t":7,"v":30},{"t":7.05,"v":45},{"t":7.1,"v":40},{"t":7.15,"v":25},{"t":7.2,"v":25},{"t":7.25,"v":45},{"t":7.3,"v":55},{"t":7.35,"v":35},{"t":7.4,"v":35},{"t":7.45,"v":25},{"t":7.5,"v":10},{"t":7.55,"v":40},{"t":7.6,"v":45},{"t":7.65,"v":30},{"t":7.7,"v":30},{"t":7.75,"v":55},{"t":7.8,"v":50},{"t":7.85,"v":35},{"t":7.9,"v":25},{"t":7.95,"v":45},
      {"t":8,"v":40},{"t":8.05,"v":25},{"t":8.1,"v":30},{"t":8.15,"v":45},{"t":8.2,"v":50},{"t":8.25,"v":35},{"t":8.3,"v":35},{"t":8.35,"v":55},{"t":8.4,"v":25},{"t":8.45,"v":40},{"t":8.5,"v":45},{"t":8.55,"v":30},{"t":8.6,"v":30},{"t":8.65,"v":50},{"t":8.7,"v":55},{"t":8.75,"v":35},{"t":8.8,"v":35},{"t":8.85,"v":50},{"t":8.9,"v":40},{"t":8.95,"v":25},
      {"t":9,"v":25},{"t":9.05,"v":40},{"t":9.1,"v":50},{"t":9.15,"v":35},{"t":9.2,"v":30},{"t":9.25,"v":45},{"t":9.3,"v":40},{"t":9.35,"v":25},{"t":9.4,"v":10},{"t":9.45,"v":35},{"t":9.5,"v":35},{"t":9.55,"v":50},{"t":9.6,"v":45},{"t":9.65,"v":25},{"t":9.7,"v":25},{"t":9.75,"v":40},{"t":9.8,"v":30},{"t":9.85,"v":20},{"t":9.9,"v":10},{"t":9.95,"v":30},
      {"t":10,"v":30},{"t":10.05,"v":45},{"t":10.1,"v":10},{"t":10.15,"v":35},{"t":10.2,"v":40},{"t":10.25,"v":25},{"t":10.3,"v":25},{"t":10.35,"v":45},{"t":10.4,"v":35},{"t":10.45,"v":20},{"t":10.5,"v":10},{"t":10.55,"v":25},{"t":10.6,"v":30},{"t":10.65,"v":45},{"t":10.7,"v":45},{"t":10.75,"v":30},{"t":10.8,"v":20},{"t":10.85,"v":40},{"t":10.9,"v":35},{"t":10.95,"v":25},
      {"t":11,"v":25},{"t":11.05,"v":40},{"t":11.1,"v":40},{"t":11.15,"v":25},{"t":11.2,"v":30},{"t":11.25,"v":45},{"t":11.3,"v":50},{"t":11.35,"v":30},{"t":11.4,"v":20},{"t":11.45,"v":35},{"t":11.5,"v":35},{"t":11.55,"v":10},{"t":11.6,"v":25},{"t":11.65,"v":40},{"t":11.7,"v":45},{"t":11.75,"v":30},{"t":11.8,"v":30},{"t":11.85,"v":45},{"t":11.9,"v":20},{"t":11.95,"v":35},
      {"t":12,"v":35},{"t":12.05,"v":10},{"t":12.1,"v":25},{"t":12.15,"v":40},{"t":12.2,"v":45},{"t":12.25,"v":30},{"t":12.3,"v":30},{"t":12.35,"v":45},{"t":12.4,"v":10},{"t":12.45,"v":35},{"t":12.5,"v":40},{"t":12.55,"v":25},{"t":12.6,"v":30},{"t":12.65,"v":45},{"t":12.7,"v":50},{"t":12.75,"v":35},{"t":12.8,"v":25},{"t":12.85,"v":40},{"t":12.9,"v":35},{"t":12.95,"v":20},
      {"t":13,"v":30},{"t":13.05,"v":45},{"t":13.1,"v":45},{"t":13.15,"v":25},{"t":13.2,"v":20},{"t":13.25,"v":35},{"t":13.3,"v":35},{"t":13.35,"v":10},{"t":13.4,"v":25},{"t":13.45,"v":40},{"t":13.5,"v":40},{"t":13.55,"v":25},{"t":13.6,"v":10},{"t":13.65,"v":30},{"t":13.7,"v":30},{"t":13.75,"v":50},{"t":13.8,"v":45},{"t":13.85,"v":30},{"t":13.9,"v":25},{"t":13.95,"v":40},
      {"t":14,"v":35},{"t":14.05,"v":50},{"t":14.1,"v":10},{"t":14.15,"v":35},{"t":14.2,"v":40},{"t":14.25,"v":25},{"t":14.3,"v":30},{"t":14.35,"v":45},{"t":14.4,"v":10},{"t":14.45,"v":25},{"t":14.5,"v":35},{"t":14.55,"v":20},{"t":14.6,"v":25},{"t":14.65,"v":40},{"t":14.7,"v":45},{"t":14.75,"v":30},{"t":14.8,"v":10},{"t":14.85,"v":35},{"t":14.9,"v":30},{"t":14.95,"v":45},
      {"t":15,"v":25},{"t":15.05,"v":35},{"t":15.1,"v":40},{"t":15.15,"v":25},{"t":15.2,"v":30},{"t":15.25,"v":45},{"t":15.3,"v":10},{"t":15.35,"v":35},{"t":15.4,"v":35},{"t":15.45,"v":20},{"t":15.5,"v":45},{"t":15.55,"v":30},{"t":15.6,"v":25},{"t":15.65,"v":40},{"t":15.7,"v":30},{"t":15.75,"v":45},{"t":15.8,"v":40},{"t":15.85,"v":25},{"t":15.9,"v":10},{"t":15.95,"v":35},
      {"t":16,"v":35},{"t":16.05,"v":50},{"t":16.1,"v":30},{"t":16.15,"v":45},{"t":16.2,"v":45},{"t":16.25,"v":30},{"t":16.3,"v":25},{"t":16.35,"v":40},{"t":16.4,"v":40},{"t":16.45,"v":25},{"t":16.5,"v":30},{"t":16.55,"v":45},{"t":16.6,"v":50},{"t":16.65,"v":35},{"t":16.7,"v":35},{"t":16.75,"v":50},{"t":16.8,"v":25},{"t":16.85,"v":40},{"t":16.9,"v":40},{"t":16.95,"v":30},
      {"t":17,"v":30},{"t":17.05,"v":45},{"t":17.1,"v":45},{"t":17.15,"v":30},{"t":17.2,"v":35},{"t":17.25,"v":10},{"t":17.3,"v":25},{"t":17.35,"v":40},{"t":17.4,"v":50},{"t":17.45,"v":35},{"t":17.5,"v":30},{"t":17.55,"v":45},{"t":17.6,"v":40},{"t":17.65,"v":25},{"t":17.7,"v":35},{"t":17.75,"v":50},{"t":17.8,"v":45},{"t":17.85,"v":30},{"t":17.9,"v":25},{"t":17.95,"v":40},
      {"t":18,"v":40},{"t":18.05,"v":55},{"t":18.1,"v":30},{"t":18.15,"v":45},{"t":18.2,"v":50},{"t":18.25,"v":35},{"t":18.3,"v":35},{"t":18.35,"v":25},{"t":18.4,"v":25},{"t":18.45,"v":40},{"t":18.5,"v":45},{"t":18.55,"v":30},{"t":18.6,"v":30},{"t":18.65,"v":50},{"t":18.7,"v":40},{"t":18.75,"v":30},{"t":18.8,"v":35},{"t":18.85,"v":45},{"t":18.9,"v":55},{"t":18.95,"v":35},
      {"t":19,"v":30},{"t":19.05,"v":45},{"t":19.1,"v":40},{"t":19.15,"v":25},{"t":19.2,"v":25},{"t":19.25,"v":40},{"t":19.3,"v":45},{"t":19.35,"v":30},{"t":19.4,"v":35},{"t":19.45,"v":50},{"t":19.5,"v":30},{"t":19.55,"v":40},{"t":19.6,"v":50},{"t":19.65,"v":35},{"t":19.7,"v":10},{"t":19.75,"v":35},{"t":19.8,"v":40},{"t":19.85,"v":55},{"t":19.9,"v":35},{"t":19.95,"v":25},
      {"t":20,"v":45},{"t":20.05,"v":30},{"t":20.1,"v":30},{"t":20.15,"v":45},{"t":20.2,"v":40},{"t":20.25,"v":25},{"t":20.3,"v":25},{"t":20.35,"v":40},{"t":20.4,"v":35},{"t":20.45,"v":50},{"t":20.5,"v":50},{"t":20.55,"v":35},{"t":20.6,"v":30},{"t":20.65,"v":45},{"t":20.7,"v":40},{"t":20.75,"v":30},{"t":20.8,"v":25},{"t":20.85,"v":40},{"t":20.9,"v":45},{"t":20.95,"v":30},
      {"t":21,"v":35},{"t":21.05,"v":50},{"t":21.1,"v":25},{"t":21.15,"v":35},{"t":21.2,"v":45},{"t":21.25,"v":30},{"t":21.3,"v":30},{"t":21.35,"v":45},{"t":21.4,"v":40},{"t":21.45,"v":25},{"t":21.5,"v":35},{"t":21.55,"v":50},{"t":21.6,"v":10},{"t":21.65,"v":35},{"t":21.7,"v":45},{"t":21.75,"v":30},{"t":21.8,"v":30},{"t":21.85,"v":45},{"t":21.9,"v":40},{"t":21.95,"v":25},
      {"t":22,"v":30},{"t":22.05,"v":45},{"t":22.1,"v":45},{"t":22.15,"v":30},{"t":22.2,"v":35},{"t":22.25,"v":50},{"t":22.3,"v":25},{"t":22.35,"v":40},{"t":22.4,"v":40},{"t":22.45,"v":25},{"t":22.5,"v":50},{"t":22.55,"v":35},{"t":22.6,"v":30},{"t":22.65,"v":45},{"t":22.7,"v":45},{"t":22.75,"v":30},{"t":22.8,"v":35},{"t":22.85,"v":50},{"t":22.9,"v":40},{"t":22.95,"v":30},
      {"t":23,"v":45},{"t":23.05,"v":35},{"t":23.1,"v":30},{"t":23.15,"v":50},{"t":23.2,"v":55},{"t":23.25,"v":40},{"t":23.3,"v":35},{"t":23.35,"v":50},{"t":23.4,"v":40},{"t":23.45,"v":30},{"t":23.5,"v":60},{"t":23.55,"v":40},{"t":23.6,"v":35},{"t":23.65,"v":50},{"t":23.7,"v":45},{"t":23.75,"v":30},{"t":23.8,"v":70},{"t":23.85,"v":45},{"t":23.9,"v":40},{"t":23.95,"v":55},
      {"t":24,"v":50}
    ],
    "s25": [
      {"t":0,"v":15},{"t":0.05,"v":24},{"t":0.1,"v":22},{"t":0.15,"v":13},{"t":0.2,"v":10},{"t":0.25,"v":19},{"t":0.3,"v":25},{"t":0.35,"v":16},{"t":0.4,"v":18},{"t":0.45,"v":27},{"t":0.5,"v":12},{"t":0.55,"v":20},{"t":0.6,"v":28},{"t":0.65,"v":17},{"t":0.7,"v":16},{"t":0.75,"v":23},{"t":0.8,"v":20},{"t":0.85,"v":12},{"t":0.9,"v":8},{"t":0.95,"v":17},
      {"t":1,"v":18},{"t":1.05,"v":12},{"t":1.1,"v":26},{"t":1.15,"v":19},{"t":1.2,"v":14},{"t":1.25,"v":23},{"t":1.3,"v":20},{"t":1.35,"v":11},{"t":1.4,"v":5},{"t":1.45,"v":15},{"t":1.5,"v":24},{"t":1.55,"v":18},{"t":1.6,"v":17},{"t":1.65,"v":26},{"t":1.7,"v":22},{"t":1.75,"v":14},{"t":1.8,"v":12},{"t":1.85,"v":21},{"t":1.9,"v":19},{"t":1.95,"v":25},
      {"t":2,"v":23},{"t":2.05,"v":14},{"t":2.1,"v":15},{"t":2.15,"v":24},{"t":2.2,"v":28},{"t":2.25,"v":19},{"t":2.3,"v":18},{"t":2.35,"v":11},{"t":2.4,"v":11},{"t":2.45,"v":20},{"t":2.5,"v":21},{"t":2.55,"v":27},{"t":2.6,"v":3},{"t":2.65,"v":14},{"t":2.7,"v":25},{"t":2.75,"v":17},{"t":2.8,"v":13},{"t":2.85,"v":22},{"t":2.9,"v":20},{"t":2.95,"v":15},
      {"t":3,"v":17},{"t":3.05,"v":25},{"t":3.1,"v":24},{"t":3.15,"v":15},{"t":3.2,"v":12},{"t":3.25,"v":21},{"t":3.3,"v":14},{"t":3.35,"v":23},{"t":3.4,"v":19},{"t":3.45,"v":13},{"t":3.5,"v":27},{"t":3.55,"v":18},{"t":3.6,"v":15},{"t":3.65,"v":24},{"t":3.7,"v":22},{"t":3.75,"v":12},{"t":3.8,"v":10},{"t":3.85,"v":19},{"t":3.9,"v":18},{"t":3.95,"v":26},
      {"t":4,"v":21},{"t":4.05,"v":13},{"t":4.1,"v":14},{"t":4.15,"v":22},{"t":4.2,"v":26},{"t":4.25,"v":18},{"t":4.3,"v":17},{"t":4.35,"v":24},{"t":4.4,"v":12},{"t":4.45,"v":20},{"t":4.5,"v":23},{"t":4.55,"v":16},{"t":4.6,"v":19},{"t":4.65,"v":27},{"t":4.7,"v":28},{"t":4.75,"v":18},{"t":4.8,"v":15},{"t":4.85,"v":23},{"t":4.9,"v":20},{"t":4.95,"v":13},
      {"t":5,"v":16},{"t":5.05,"v":24},{"t":5.1,"v":25},{"t":5.15,"v":17},{"t":5.2,"v":13},{"t":5.25,"v":21},{"t":5.3,"v":22},{"t":5.35,"v":14},{"t":5.4,"v":18},{"t":5.45,"v":26},{"t":5.5,"v":30},{"t":5.55,"v":20},{"t":5.6,"v":14},{"t":5.65,"v":23},{"t":5.7,"v":21},{"t":5.75,"v":15},{"t":5.8,"v":11},{"t":5.85,"v":19},{"t":5.9,"v":24},{"t":5.95,"v":17},
      {"t":6,"v":19},{"t":6.05,"v":28},{"t":6.1,"v":27},{"t":6.15,"v":18},{"t":6.2,"v":15},{"t":6.25,"v":24},{"t":6.3,"v":23},{"t":6.35,"v":16},{"t":6.4,"v":12},{"t":6.45,"v":21},{"t":6.5,"v":20},{"t":6.55,"v":29},{"t":6.6,"v":26},{"t":6.65,"v":18},{"t":6.7,"v":17},{"t":6.75,"v":25},{"t":6.8,"v":29},{"t":6.85,"v":21},{"t":6.9,"v":21},{"t":6.95,"v":27},
      {"t":7,"v":24},{"t":7.05,"v":31},{"t":7.1,"v":18},{"t":7.15,"v":26},{"t":7.2,"v":30},{"t":7.25,"v":22},{"t":7.3,"v":22},{"t":7.35,"v":32},{"t":7.4,"v":15},{"t":7.45,"v":24},{"t":7.5,"v":27},{"t":7.55,"v":20},{"t":7.6,"v":20},{"t":7.65,"v":29},{"t":7.7,"v":33},{"t":7.75,"v":24},{"t":7.8,"v":23},{"t":7.85,"v":30},{"t":7.9,"v":26},{"t":7.95,"v":19},
      {"t":8,"v":28},{"t":8.05,"v":35},{"t":8.1,"v":21},{"t":8.15,"v":27},{"t":8.2,"v":35},{"t":8.25,"v":25},{"t":8.3,"v":24},{"t":8.35,"v":32},{"t":8.4,"v":30},{"t":8.45,"v":21},{"t":8.5,"v":19},{"t":8.55,"v":28},{"t":8.6,"v":27},{"t":8.65,"v":34},{"t":8.7,"v":32},{"t":8.75,"v":24},{"t":8.8,"v":22},{"t":8.85,"v":30},{"t":8.9,"v":29},{"t":8.95,"v":23},
      {"t":9,"v":25},{"t":9.05,"v":32},{"t":9.1,"v":31},{"t":9.15,"v":22},{"t":9.2,"v":20},{"t":9.25,"v":28},{"t":9.3,"v":27},{"t":9.35,"v":19},{"t":9.4,"v":23},{"t":9.45,"v":30},{"t":9.5,"v":18},{"t":9.55,"v":25},{"t":9.6,"v":26},{"t":9.65,"v":17},{"t":9.7,"v":14},{"t":9.75,"v":22},{"t":9.8,"v":22},{"t":9.85,"v":15},{"t":9.9,"v":17},{"t":9.95,"v":24},
      {"t":10,"v":13},{"t":10.05,"v":20},{"t":10.1,"v":20},{"t":10.15,"v":12},{"t":10.2,"v":9},{"t":10.25,"v":17},{"t":10.3,"v":18},{"t":10.35,"v":24},{"t":10.4,"v":15},{"t":10.45,"v":10},{"t":10.5,"v":23},{"t":10.55,"v":16},{"t":10.6,"v":12},{"t":10.65,"v":21},{"t":10.7,"v":19},{"t":10.75,"v":13},{"t":10.8,"v":16},{"t":10.85,"v":24},{"t":10.9,"v":22},{"t":10.95,"v":15},
      {"t":11,"v":18},{"t":11.05,"v":26},{"t":11.1,"v":25},{"t":11.15,"v":16},{"t":11.2,"v":14},{"t":11.25,"v":22},{"t":11.3,"v":21},{"t":11.35,"v":13},{"t":11.4,"v":17},{"t":11.45,"v":25},{"t":11.5,"v":27},{"t":11.55,"v":18},{"t":11.6,"v":13},{"t":11.65,"v":22},{"t":11.7,"v":20},{"t":11.75,"v":15},{"t":11.8,"v":24},{"t":11.85,"v":17},{"t":11.9,"v":16},{"t":11.95,"v":23},
      {"t":12,"v":22},{"t":12.05,"v":14},{"t":12.1,"v":15},{"t":12.15,"v":24},{"t":12.2,"v":26},{"t":12.25,"v":18},{"t":12.3,"v":18},{"t":12.35,"v":12},{"t":12.4,"v":11},{"t":12.45,"v":20},{"t":12.5,"v":21},{"t":12.55,"v":27},{"t":12.6,"v":17},{"t":12.65,"v":24},{"t":12.7,"v":25},{"t":12.75,"v":16},{"t":12.8,"v":14},{"t":12.85,"v":22},{"t":12.9,"v":20},{"t":12.95,"v":13},
      {"t":13,"v":19},{"t":13.05,"v":26},{"t":13.1,"v":24},{"t":13.15,"v":16},{"t":13.2,"v":13},{"t":13.25,"v":22},{"t":13.3,"v":20},{"t":13.35,"v":14},{"t":13.4,"v":16},{"t":13.45,"v":25},{"t":13.5,"v":27},{"t":13.55,"v":19},{"t":13.6,"v":12},{"t":13.65,"v":20},{"t":13.7,"v":18},{"t":13.75,"v":26},{"t":13.8,"v":22},{"t":13.85,"v":15},{"t":13.9,"v":15},{"t":13.95,"v":23},
      {"t":14,"v":20},{"t":14.05,"v":27},{"t":14.1,"v":14},{"t":14.15,"v":21},{"t":14.2,"v":23},{"t":14.25,"v":15},{"t":14.3,"v":17},{"t":14.35,"v":24},{"t":14.4,"v":8},{"t":14.45,"v":16},{"t":14.5,"v":19},{"t":14.55,"v":25},{"t":14.6,"v":1},{"t":14.65,"v":10},{"t":14.7,"v":12},{"t":14.75,"v":20},{"t":14.8,"v":18},{"t":14.85,"v":25},{"t":14.9,"v":21},{"t":14.95,"v":14},
      {"t":15,"v":15},{"t":15.05,"v":23},{"t":15.1,"v":22},{"t":15.15,"v":13},{"t":15.2,"v":11},{"t":15.25,"v":20},{"t":15.3,"v":19},{"t":15.35,"v":27},{"t":15.4,"v":25},{"t":15.45,"v":17},{"t":15.5,"v":16},{"t":15.55,"v":24},{"t":15.6,"v":20},{"t":15.65,"v":13},{"t":15.7,"v":13},{"t":15.75,"v":21},{"t":15.8,"v":24},{"t":15.85,"v":16},{"t":15.9,"v":18},{"t":15.95,"v":26},
      {"t":16,"v":21},{"t":16.05,"v":14},{"t":16.1,"v":15},{"t":16.15,"v":23},{"t":16.2,"v":26},{"t":16.25,"v":18},{"t":16.3,"v":19},{"t":16.35,"v":27},{"t":16.4,"v":23},{"t":16.45,"v":15},{"t":16.5,"v":17},{"t":16.55,"v":25},{"t":16.6,"v":28},{"t":16.65,"v":20},{"t":16.7,"v":14},{"t":16.75,"v":22},{"t":16.8,"v":22},{"t":16.85,"v":15},{"t":16.9,"v":18},{"t":16.95,"v":26},
      {"t":17,"v":24},{"t":17.05,"v":17},{"t":17.1,"v":16},{"t":17.15,"v":23},{"t":17.2,"v":20},{"t":17.25,"v":13},{"t":17.3,"v":27},{"t":17.35,"v":19},{"t":17.4,"v":13},{"t":17.45,"v":22},{"t":17.5,"v":21},{"t":17.55,"v":28},{"t":17.6,"v":18},{"t":17.65,"v":12},{"t":17.7,"v":25},{"t":17.75,"v":18},{"t":17.8,"v":15},{"t":17.85,"v":23},{"t":17.9,"v":22},{"t":17.95,"v":14},
      {"t":18,"v":19},{"t":18.05,"v":27},{"t":18.1,"v":26},{"t":18.15,"v":17},{"t":18.2,"v":14},{"t":18.25,"v":23},{"t":18.3,"v":22},{"t":18.35,"v":15},{"t":18.4,"v":17},{"t":18.45,"v":26},{"t":18.5,"v":28},{"t":18.55,"v":19},{"t":18.6,"v":1},{"t":18.65,"v":14},{"t":18.7,"v":21},{"t":18.75,"v":28},{"t":18.8,"v":12},{"t":18.85,"v":20},{"t":18.9,"v":24},{"t":18.95,"v":17},
      {"t":19,"v":18},{"t":19.05,"v":25},{"t":19.1,"v":23},{"t":19.15,"v":15},{"t":19.2,"v":15},{"t":19.25,"v":22},{"t":19.3,"v":20},{"t":19.35,"v":12},{"t":19.4,"v":8},{"t":19.45,"v":16},{"t":19.5,"v":17},{"t":19.55,"v":25},{"t":19.6,"v":25},{"t":19.65,"v":18},{"t":19.7,"v":14},{"t":19.75,"v":21},{"t":19.8,"v":21},{"t":19.85,"v":28},{"t":19.9,"v":19},{"t":19.95,"v":13},
      {"t":20,"v":16},{"t":20.05,"v":23},{"t":20.1,"v":24},{"t":20.15,"v":15},{"t":20.2,"v":13},{"t":20.25,"v":21},{"t":20.3,"v":21},{"t":20.35,"v":14},{"t":20.4,"v":18},{"t":20.45,"v":26},{"t":20.5,"v":26},{"t":20.55,"v":17},{"t":20.6,"v":15},{"t":20.65,"v":22},{"t":20.7,"v":19},{"t":20.75,"v":27},{"t":20.8,"v":22},{"t":20.85,"v":15},{"t":20.9,"v":14},{"t":20.95,"v":20},
      {"t":21,"v":20},{"t":21.05,"v":27},{"t":21.1,"v":17},{"t":21.15,"v":24},{"t":21.2,"v":25},{"t":21.25,"v":16},{"t":21.3,"v":13},{"t":21.35,"v":21},{"t":21.4,"v":22},{"t":21.45,"v":14},{"t":21.5,"v":18},{"t":21.55,"v":25},{"t":21.6,"v":27},{"t":21.65,"v":19},{"t":21.7,"v":16},{"t":21.75,"v":23},{"t":21.8,"v":21},{"t":21.85,"v":14},{"t":21.9,"v":15},{"t":21.95,"v":22},
      {"t":22,"v":19},{"t":22.05,"v":26},{"t":22.1,"v":24},{"t":22.15,"v":16},{"t":22.2,"v":14},{"t":22.25,"v":22},{"t":22.3,"v":20},{"t":22.35,"v":13},{"t":22.4,"v":17},{"t":22.45,"v":24},{"t":22.5,"v":28},{"t":22.55,"v":19},{"t":22.6,"v":15},{"t":22.65,"v":23},{"t":22.7,"v":22},{"t":22.75,"v":14},{"t":22.8,"v":18},{"t":22.85,"v":26},{"t":22.9,"v":25},{"t":22.95,"v":17},
      {"t":23,"v":16},{"t":23.05,"v":24},{"t":23.1,"v":23},{"t":23.15,"v":15},{"t":23.2,"v":19},{"t":23.25,"v":27},{"t":23.3,"v":27},{"t":23.35,"v":18},{"t":23.4,"v":14},{"t":23.45,"v":22},{"t":23.5,"v":21},{"t":23.55,"v":29},{"t":23.6,"v":18},{"t":23.65,"v":25},{"t":23.7,"v":29},{"t":23.75,"v":20},{"t":23.8,"v":20},{"t":23.85,"v":27},{"t":23.9,"v":24},{"t":23.95,"v":16},
      {"t":24,"v":22}
    ],
    "s4": [
      {"t":0,"v":1},{"t":0.05,"v":4},{"t":0.1,"v":6},{"t":0.15,"v":2},{"t":0.2,"v":3},{"t":0.25,"v":5},{"t":0.3,"v":5},{"t":0.35,"v":1},{"t":0.4,"v":2},{"t":0.45,"v":6},{"t":0.5,"v":7},{"t":0.55,"v":3},{"t":0.6,"v":4},{"t":0.65,"v":6},{"t":0.7,"v":1},{"t":0.75,"v":4},{"t":0.8,"v":6},{"t":0.85,"v":2},{"t":0.9,"v":3},{"t":0.95,"v":5},
      {"t":1,"v":5},{"t":1.05,"v":2},{"t":1.1,"v":1},{"t":1.15,"v":4},{"t":1.2,"v":4},{"t":1.25,"v":6},{"t":1.3,"v":6},{"t":1.35,"v":3},{"t":1.4,"v":2},{"t":1.45,"v":5},{"t":1.5,"v":5},{"t":1.55,"v":1},{"t":1.6,"v":1},{"t":1.65,"v":4},{"t":1.7,"v":3},{"t":1.75,"v":6},{"t":1.8,"v":7},{"t":1.85,"v":2},{"t":1.9,"v":4},{"t":1.95,"v":5},
      {"t":2,"v":2},{"t":2.05,"v":6},{"t":2.1,"v":5},{"t":2.15,"v":3},{"t":2.2,"v":1},{"t":2.25,"v":4},{"t":2.3,"v":4},{"t":2.35,"v":2},{"t":2.4,"v":6},{"t":2.45,"v":3},{"t":2.5,"v":3},{"t":2.55,"v":5},{"t":2.6,"v":1},{"t":2.65,"v":4},{"t":2.7,"v":5},{"t":2.75,"v":2},{"t":2.8,"v":2},{"t":2.85,"v":6},{"t":2.9,"v":4},{"t":2.95,"v":1},
      {"t":3,"v":6},{"t":3.05,"v":3},{"t":3.1,"v":1},{"t":3.15,"v":5},{"t":3.2,"v":3},{"t":3.25,"v":4},{"t":3.3,"v":5},{"t":3.35,"v":1},{"t":3.4,"v":2},{"t":3.45,"v":6},{"t":3.5,"v":4},{"t":3.55,"v":3},{"t":3.6,"v":7},{"t":3.65,"v":4},{"t":3.7,"v":1},{"t":3.75,"v":5},{"t":3.8,"v":5},{"t":3.85,"v":2},{"t":3.9,"v":3},{"t":3.95,"v":6},
      {"t":4,"v":4},{"t":4.05,"v":1},{"t":4.1,"v":2},{"t":4.15,"v":5},{"t":4.2,"v":6},{"t":4.25,"v":3},{"t":4.3,"v":1},{"t":4.35,"v":4},{"t":4.4,"v":5},{"t":4.45,"v":2},{"t":4.5,"v":3},{"t":4.55,"v":6},{"t":4.6,"v":4},{"t":4.65,"v":1},{"t":4.7,"v":1},{"t":4.75,"v":5},{"t":4.8,"v":6},{"t":4.85,"v":3},{"t":4.9,"v":2},{"t":4.95,"v":5},
      {"t":5,"v":5},{"t":5.05,"v":2},{"t":5.1,"v":3},{"t":5.15,"v":6},{"t":5.2,"v":1},{"t":5.25,"v":4},{"t":5.3,"v":6},{"t":5.35,"v":2},{"t":5.4,"v":4},{"t":5.45,"v":1},{"t":5.5,"v":2},{"t":5.55,"v":5},{"t":5.6,"v":5},{"t":5.65,"v":3},{"t":5.7,"v":1},{"t":5.75,"v":4},{"t":5.8,"v":3},{"t":5.85,"v":6},{"t":5.9,"v":7},{"t":5.95,"v":2},
      {"t":6,"v":4},{"t":6.05,"v":6},{"t":6.1,"v":1},{"t":6.15,"v":3},{"t":6.2,"v":6},{"t":6.25,"v":2},{"t":6.3,"v":3},{"t":6.35,"v":5},{"t":6.4,"v":5},{"t":6.45,"v":1},{"t":6.5,"v":2},{"t":6.55,"v":6},{"t":6.6,"v":7},{"t":6.65,"v":3},{"t":6.7,"v":4},{"t":6.75,"v":1},{"t":6.8,"v":1},{"t":6.85,"v":5},{"t":6.9,"v":5},{"t":6.95,"v":3},
      {"t":7,"v":6},{"t":7.05,"v":4},{"t":7.1,"v":3},{"t":7.15,"v":7},{"t":7.2,"v":8},{"t":7.25,"v":2},{"t":7.3,"v":5},{"t":7.35,"v":6},{"t":7.4,"v":2},{"t":7.45,"v":7},{"t":7.5,"v":7},{"t":7.55,"v":4},{"t":7.6,"v":4},{"t":7.65,"v":8},{"t":7.7,"v":9},{"t":7.75,"v":5},{"t":7.8,"v":6},{"t":7.85,"v":3},{"t":7.9,"v":5},{"t":7.95,"v":8},
      {"t":8,"v":8},{"t":8.05,"v":5},{"t":8.1,"v":4},{"t":8.15,"v":9},{"t":8.2,"v":10},{"t":8.25,"v":6},{"t":8.3,"v":7},{"t":8.35,"v":4},{"t":8.4,"v":5},{"t":8.45,"v":9},{"t":8.5,"v":12},{"t":8.55,"v":6},{"t":8.6,"v":6},{"t":8.65,"v":10},{"t":8.7,"v":9},{"t":8.75,"v":4},{"t":8.8,"v":3},{"t":8.85,"v":8},{"t":8.9,"v":8},{"t":8.95,"v":5},
      {"t":9,"v":7},{"t":9.05,"v":4},{"t":9.1,"v":11},{"t":9.15,"v":7},{"t":9.2,"v":5},{"t":9.25,"v":10},{"t":9.3,"v":9},{"t":9.35,"v":6},{"t":9.4,"v":6},{"t":9.45,"v":12},{"t":9.5,"v":15},{"t":9.55,"v":8},{"t":9.6,"v":4},{"t":9.65,"v":9},{"t":9.7,"v":8},{"t":9.75,"v":5},{"t":9.8,"v":3},{"t":9.85,"v":7},{"t":9.9,"v":7},{"t":9.95,"v":4},
      {"t":10,"v":5},{"t":10.05,"v":3},{"t":10.1,"v":2},{"t":10.15,"v":6},{"t":10.2,"v":6},{"t":10.25,"v":1},{"t":10.3,"v":1},{"t":10.35,"v":4},{"t":10.4,"v":4},{"t":10.45,"v":7},{"t":10.5,"v":7},{"t":10.55,"v":2},{"t":10.6,"v":3},{"t":10.65,"v":5},{"t":10.7,"v":5},{"t":10.75,"v":1},{"t":10.8,"v":1},{"t":10.85,"v":6},{"t":10.9,"v":6},{"t":10.95,"v":3},
      {"t":11,"v":3},{"t":11.05,"v":6},{"t":11.1,"v":5},{"t":11.15,"v":2},{"t":11.2,"v":1},{"t":11.25,"v":4},{"t":11.3,"v":4},{"t":11.35,"v":6},{"t":11.4,"v":6},{"t":11.45,"v":1},{"t":11.5,"v":2},{"t":11.55,"v":5},{"t":11.6,"v":5},{"t":11.65,"v":3},{"t":11.7,"v":1},{"t":11.75,"v":4},{"t":11.8,"v":3},{"t":11.85,"v":6},{"t":11.9,"v":6},{"t":11.95,"v":2},
      {"t":12,"v":4},{"t":12.05,"v":2},{"t":12.1,"v":1},{"t":12.15,"v":5},{"t":12.2,"v":5},{"t":12.25,"v":3},{"t":12.3,"v":3},{"t":12.35,"v":6},{"t":12.4,"v":7},{"t":12.45,"v":2},{"t":12.5,"v":2},{"t":12.55,"v":4},{"t":12.6,"v":4},{"t":12.65,"v":1},{"t":12.7,"v":1},{"t":12.75,"v":5},{"t":12.8,"v":6},{"t":12.85,"v":3},{"t":12.9,"v":3},{"t":12.95,"v":5},
      {"t":13,"v":5},{"t":13.05,"v":3},{"t":13.1,"v":2},{"t":13.15,"v":6},{"t":13.2,"v":4},{"t":13.25,"v":1},{"t":13.3,"v":1},{"t":13.35,"v":5},{"t":13.4,"v":6},{"t":13.45,"v":2},{"t":13.5,"v":3},{"t":13.55,"v":4},{"t":13.6,"v":5},{"t":13.65,"v":1},{"t":13.7,"v":2},{"t":13.75,"v":6},{"t":13.8,"v":1},{"t":13.85,"v":3},{"t":13.9,"v":4},{"t":13.95,"v":6},
      {"t":14,"v":6},{"t":14.05,"v":2},{"t":14.1,"v":3},{"t":14.15,"v":5},{"t":14.2,"v":1},{"t":14.25,"v":4},{"t":14.3,"v":5},{"t":14.35,"v":2},{"t":14.4,"v":2},{"t":14.45,"v":6},{"t":14.5,"v":4},{"t":14.55,"v":1},{"t":14.6,"v":1},{"t":14.65,"v":3},{"t":14.7,"v":7},{"t":14.75,"v":4},{"t":14.8,"v":3},{"t":14.85,"v":5},{"t":14.9,"v":5},{"t":14.95,"v":2},
      {"t":15,"v":1},{"t":15.05,"v":4},{"t":15.1,"v":4},{"t":15.15,"v":6},{"t":15.2,"v":6},{"t":15.25,"v":3},{"t":15.3,"v":2},{"t":15.35,"v":5},{"t":15.4,"v":5},{"t":15.45,"v":1},{"t":15.5,"v":3},{"t":15.55,"v":6},{"t":15.6,"v":1},{"t":15.65,"v":4},{"t":15.7,"v":4},{"t":15.75,"v":2},{"t":15.8,"v":6},{"t":15.85,"v":3},{"t":15.9,"v":2},{"t":15.95,"v":5},
      {"t":16,"v":5},{"t":16.05,"v":3},{"t":16.1,"v":1},{"t":16.15,"v":4},{"t":16.2,"v":3},{"t":16.25,"v":6},{"t":16.3,"v":6},{"t":16.35,"v":2},{"t":16.4,"v":4},{"t":16.45,"v":5},{"t":16.5,"v":2},{"t":16.55,"v":1},{"t":16.6,"v":7},{"t":16.65,"v":4},{"t":16.7,"v":1},{"t":16.75,"v":5},{"t":16.8,"v":5},{"t":16.85,"v":2},{"t":16.9,"v":3},{"t":16.95,"v":6},
      {"t":17,"v":4},{"t":17.05,"v":1},{"t":17.1,"v":6},{"t":17.15,"v":3},{"t":17.2,"v":2},{"t":17.25,"v":5},{"t":17.3,"v":5},{"t":17.35,"v":1},{"t":17.4,"v":1},{"t":17.45,"v":4},{"t":17.5,"v":3},{"t":17.55,"v":6},{"t":17.6,"v":6},{"t":17.65,"v":2},{"t":17.7,"v":4},{"t":17.75,"v":5},{"t":17.8,"v":1},{"t":17.85,"v":3},{"t":17.9,"v":5},{"t":17.95,"v":2},
      {"t":18,"v":3},{"t":18.05,"v":5},{"t":18.1,"v":7},{"t":18.15,"v":2},{"t":18.2,"v":4},{"t":18.25,"v":6},{"t":18.3,"v":1},{"t":18.35,"v":3},{"t":18.4,"v":5},{"t":18.45,"v":1},{"t":18.5,"v":2},{"t":18.55,"v":6},{"t":18.6,"v":6},{"t":18.65,"v":4},{"t":18.7,"v":3},{"t":18.75,"v":7},{"t":18.8,"v":10},{"t":18.85,"v":5},{"t":18.9,"v":4},{"t":18.95,"v":2},
      {"t":19,"v":5},{"t":19.05,"v":3},{"t":19.1,"v":1},{"t":19.15,"v":4},{"t":19.2,"v":4},{"t":19.25,"v":6},{"t":19.3,"v":6},{"t":19.35,"v":2},{"t":19.4,"v":2},{"t":19.45,"v":5},{"t":19.5,"v":5},{"t":19.55,"v":1},{"t":19.6,"v":3},{"t":19.65,"v":6},{"t":19.7,"v":1},{"t":19.75,"v":4},{"t":19.8,"v":7},{"t":19.85,"v":3},{"t":19.9,"v":4},{"t":19.95,"v":6},
      {"t":20,"v":2},{"t":20.05,"v":4},{"t":20.1,"v":5},{"t":20.15,"v":1},{"t":20.2,"v":3},{"t":20.25,"v":6},{"t":20.3,"v":6},{"t":20.35,"v":2},{"t":20.4,"v":1},{"t":20.45,"v":5},{"t":20.5,"v":4},{"t":20.55,"v":3},{"t":20.6,"v":5},{"t":20.65,"v":1},{"t":20.7,"v":2},{"t":20.75,"v":6},{"t":20.8,"v":6},{"t":20.85,"v":3},{"t":20.9,"v":3},{"t":20.95,"v":5},
      {"t":21,"v":5},{"t":21.05,"v":2},{"t":21.1,"v":1},{"t":21.15,"v":6},{"t":21.2,"v":4},{"t":21.25,"v":3},{"t":21.3,"v":3},{"t":21.35,"v":5},{"t":21.4,"v":6},{"t":21.45,"v":1},{"t":21.5,"v":2},{"t":21.55,"v":4},{"t":21.6,"v":5},{"t":21.65,"v":3},{"t":21.7,"v":1},{"t":21.75,"v":6},{"t":21.8,"v":4},{"t":21.85,"v":2},{"t":21.9,"v":6},{"t":21.95,"v":3},
      {"t":22,"v":3},{"t":22.05,"v":6},{"t":22.1,"v":5},{"t":22.15,"v":2},{"t":22.2,"v":1},{"t":22.25,"v":4},{"t":22.3,"v":6},{"t":22.35,"v":3},{"t":22.4,"v":4},{"t":22.45,"v":1},{"t":22.5,"v":2},{"t":22.55,"v":5},{"t":22.6,"v":5},{"t":22.65,"v":2},{"t":22.7,"v":3},{"t":22.75,"v":6},{"t":22.8,"v":1},{"t":22.85,"v":4},{"t":22.9,"v":4},{"t":22.95,"v":2},
      {"t":23,"v":6},{"t":23.05,"v":3},{"t":23.1,"v":2},{"t":23.15,"v":5},{"t":23.2,"v":5},{"t":23.25,"v":1},{"t":23.3,"v":4},{"t":23.35,"v":6},{"t":23.4,"v":1},{"t":23.45,"v":3},{"t":23.5,"v":7},{"t":23.55,"v":4},{"t":23.6,"v":3},{"t":23.65,"v":5},{"t":23.7,"v":5},{"t":23.75,"v":2},{"t":23.8,"v":8},{"t":23.85,"v":4},{"t":23.9,"v":4},{"t":23.95,"v":6},
      {"t":24,"v":1}
    ]
  },
  "layer": [
    {
      "data": {"name": "s025"},
      "mark": {"type": "line", "strokeWidth": 2.5},
      "encoding": {
        "x": {
          "field": "t", "type": "quantitative",
          "scale": {"domain": [0, 24], "nice": false, "zero": false},
          "axis": {
            "orient": "bottom",
            "title": "Time (hour EDT)",
            "tickCount": 120,
            "labelExpr": "abs(datum.value/2-round(datum.value/2))<0.001 ? format(datum.value,'d') : ''",
            "tickSize": {"condition": {"test": "abs(datum.value/2-round(datum.value/2))<0.001", "value": 16}, "value": 8},
            "labelFontSize": 62,
            "labelPadding": 36,
            "titlePadding": 17,
            "titleFontSize": 68
          }
        },
        "y": {
          "field": "v", "type": "quantitative",
          "scale": {"type": "log", "domain": [1, 2000000], "nice": false},
          "axis": {
            "orient": "left",
            "title": "Number density (counts/liter)",
            "values": [1,2,3,4,5,6,7,8,9,10,20,30,40,50,60,70,80,90,100,200,300,400,500,600,700,800,900,1000,2000,3000,4000,5000,6000,7000,8000,9000,10000,20000,30000,40000,50000,60000,70000,80000,90000,100000,200000,300000,400000,500000,600000,700000,800000,900000,1000000],
            "labelExpr": "abs(log(datum.value)/LN10-round(log(datum.value)/LN10))<0.001 ? '10' + ['⁰','¹','²','³','⁴','⁵','⁶'][round(log(datum.value)/LN10)] : ''",
            "tickSize": {"condition": {"test": "abs(log(datum.value)/LN10-round(log(datum.value)/LN10))<0.001", "value": 16}, "value": 8},
            "labelFontSize": 60,
            "labelPadding": 41,
            "labelOffset": 10,
            "titlePadding": 3,
            "titleFontSize": 68
          }
        },
        "color": {
          "datum": "0.25", "type": "nominal",
          "scale": {
            "domain": ["0.25", "0.35", "0.5", "0.7", "1.3", "2.5", "4"],
            "range": ["#0072BD", "#D95319", "#EDB120", "#7E2F8E", "#77AC30", "#4DBEEE", "#A2142F"]
          },
          "legend": {
            "orient": "none",
            "legendX": 1298,
            "legendY": 42,
            "title": null,
            "symbolType": "M-1,0H4.8",
            "symbolSize": 1907,
            "symbolStrokeWidth": 2.5,
            "labelFontSize": 55,
            "labelFont": "Liberation Sans",
            "labelColor": "black",
            "labelAlign": "center",
            "labelOffset": 146,
            "padding": 18,
            "rowPadding": 18,
            "fillColor": "white",
            "strokeColor": "black"
          }
        }
      }
    },
    {
      "data": {"name": "s035"},
      "mark": {"type": "line", "strokeWidth": 2.5},
      "encoding": {
        "x": {"field": "t", "type": "quantitative", "axis": null},
        "y": {"field": "v", "type": "quantitative", "axis": null},
        "color": {"datum": "0.35", "type": "nominal"}
      }
    },
    {
      "data": {"name": "s05"},
      "mark": {"type": "line", "strokeWidth": 3.5},
      "encoding": {
        "x": {"field": "t", "type": "quantitative", "axis": null},
        "y": {"field": "v", "type": "quantitative", "axis": null},
        "color": {"datum": "0.5", "type": "nominal"}
      }
    },
    {
      "data": {"name": "s07"},
      "mark": {"type": "line", "strokeWidth": 3.5},
      "encoding": {
        "x": {"field": "t", "type": "quantitative", "axis": null},
        "y": {"field": "v", "type": "quantitative", "axis": null},
        "color": {"datum": "0.7", "type": "nominal"}
      }
    },
    {
      "data": {"name": "s13"},
      "mark": {"type": "line", "strokeWidth": 3.5},
      "encoding": {
        "x": {"field": "t", "type": "quantitative", "axis": null},
        "y": {"field": "v", "type": "quantitative", "axis": null},
        "color": {"datum": "1.3", "type": "nominal"}
      }
    },
    {
      "data": {"name": "s25"},
      "mark": {"type": "line", "strokeWidth": 3.5},
      "encoding": {
        "x": {"field": "t", "type": "quantitative", "axis": null},
        "y": {"field": "v", "type": "quantitative", "axis": null},
        "color": {"datum": "2.5", "type": "nominal"}
      }
    },
    {
      "data": {"name": "s4"},
      "mark": {"type": "line", "strokeWidth": 3.5},
      "encoding": {
        "x": {"field": "t", "type": "quantitative", "axis": null},
        "y": {"field": "v", "type": "quantitative", "axis": null},
        "color": {"datum": "4", "type": "nominal"}
      }
    },
    {
      "data": {"name": "s025"},
      "mark": {"type": "line", "strokeOpacity": 0},
      "encoding": {
        "x": {
          "field": "t", "type": "quantitative",
          "axis": {
            "orient": "top",
            "title": null,
            "labels": false,
            "tickCount": 120,
            "tickSize": {"condition": {"test": "abs(datum.value/2-round(datum.value/2))<0.001", "value": 16}, "value": 8}
          }
        },
        "y": {
          "field": "v", "type": "quantitative",
          "axis": {
            "orient": "right",
            "title": null,
            "labels": false,
            "values": [1,2,3,4,5,6,7,8,9,10,20,30,40,50,60,70,80,90,100,200,300,400,500,600,700,800,900,1000,2000,3000,4000,5000,6000,7000,8000,9000,10000,20000,30000,40000,50000,60000,70000,80000,90000,100000,200000,300000,400000,500000,600000,700000,800000,900000,1000000],
            "tickSize": {"condition": {"test": "abs(log(datum.value)/LN10-round(log(datum.value)/LN10))<0.001", "value": 16}, "value": 8}
          }
        }
      }
    }
  ],
  "resolve": {"axis": {"x": "independent", "y": "independent"}},
  "config": {
    "view": {"stroke": null},
    "font": "Liberation Sans",
    "axis": {
      "grid": false,
      "domainColor": "#262626",
      "domainWidth": 3,
      "tickColor": "#262626",
      "tickWidth": 2.5,
      "labelColor": "#262626",
      "labelFont": "Liberation Sans",
      "labelOverlap": false,
      "labelFlush": false,
      "titleColor": "#262626",
      "titleFont": "Liberation Sans",
      "titleFontWeight": "normal"
    },
    "legend": {"strokeWidth": 2.5}
  }
}
